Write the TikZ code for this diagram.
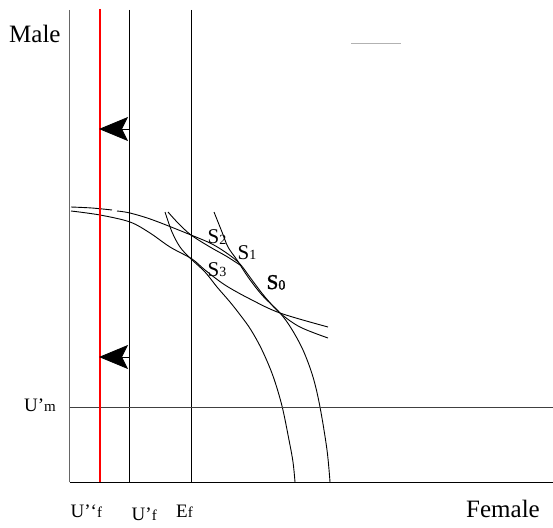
\documentclass[tikz,border=0pt]{standalone}
\usepackage{fontspec}
\setmainfont{Liberation Serif}
\newfontfamily\sbold[FakeBold=1.6]{Liberation Serif}
\usetikzlibrary{arrows.meta}
\begin{document}
\begin{tikzpicture}[x=1pt,y=-1pt,
  axisline/.style={line width=1pt,black},
  grayaxis/.style={line width=1pt,black!60},
  guide/.style={line width=0.9pt,black},
  redline/.style={line width=2pt,red},
  curve/.style={line width=0.9pt,black,smooth,tension=0.55},
  pusharrow/.style={line width=0.8pt,black,-{Stealth[length=29pt,width=24pt,inset=6pt]}},
  lbl/.style={inner sep=0pt,anchor=base west,text=black},
  big/.style={font=\fontsize{25}{25}\selectfont},
]
\useasboundingbox (0,0) rectangle (553,527);

% named points
\coordinate (origin) at (69.5,482);
\coordinate (ytop) at (69.5,10);
\coordinate (xend) at (553,482);
\coordinate (redtop) at (100,9);
\coordinate (redbot) at (100,482);
\coordinate (uftop) at (129.5,10);
\coordinate (ufbot) at (129.5,482);
\coordinate (eftop) at (191.5,10);
\coordinate (efbot) at (191.5,482);
\coordinate (umleft) at (69.5,407);
\coordinate (umright) at (553,407);
\coordinate (a1s) at (129.5,129);
\coordinate (a1t) at (99,129);
\coordinate (a2s) at (129.5,357);
\coordinate (a2t) at (99,357);
\coordinate (gl) at (351,43);
\coordinate (gr) at (401,43);

% curves
\draw[curve] plot coordinates {(71,207) (92,208) (112,210)};
\draw[curve] plot coordinates {(117,211) (130,213) (153,220) (191,235) (212,244) (228,254) (240,264) (252,280) (265,297) (280,313) (300,327) (328,338)};
\draw[curve] plot coordinates {(71,211) (100,215) (130,222) (150,233) (170,247) (192,259) (205,270) (225,285) (250,299) (280,313) (328,327)};
\draw[curve] plot coordinates {(165,212) (172,232) (180,247) (190,258) (205,272) (217,287) (230,302) (241,316) (251,330) (262,350) (273,376) (282,406) (289,440) (293,462) (295,482)};
\draw[curve] plot coordinates {(214,212) (222,232) (228,247) (237,260) (248,277) (262,295) (280,313) (291,328) (303,350) (313,377) (320,407) (327,450) (330,482)};
\draw[curve] plot coordinates {(168,212) (178,223) (191,235) (210,247) (226,256) (240,265)};

% axes and guide lines
\draw[grayaxis] (ytop) -- (origin);
\draw[axisline] (origin) -- (xend);
\draw[guide] (uftop) -- (ufbot);
\draw[guide] (eftop) -- (efbot);
\draw[line width=1pt,black!75] (umleft) -- (umright);
\draw[line width=0.8pt,black!30] (gl) -- (gr);
\draw[redline] (redtop) -- (redbot);

% arrows
\draw[pusharrow] (a1s) -- (a1t);
\draw[pusharrow] (a2s) -- (a2t);

% labels
\node[lbl,big] (male) at (9,42) {Male};
\node[lbl,big] (female) at (466,517) {Female};
\node[lbl] (um) at (24,411) {\fontsize{19}{19}\selectfont U’\fontsize{15}{15}\selectfont m};
\node[lbl] (upf) at (70.5,517) {\fontsize{19}{19}\selectfont U’‘\fontsize{15}{15}\selectfont f};
\node[lbl] (uf) at (131.5,520) {\fontsize{19}{19}\selectfont U’\fontsize{15}{15}\selectfont f};
\node[lbl] (ef) at (176,517) {\fontsize{19}{19}\selectfont E\fontsize{15}{15}\selectfont f};
\node[lbl] (s2) at (207.5,243) {\fontsize{21}{21}\selectfont S\fontsize{14}{14}\selectfont\raisebox{-1.5pt}{2}};
\node[lbl] (s1) at (237.5,259) {\fontsize{21}{21}\selectfont S\fontsize{14}{14}\selectfont\raisebox{-0.5pt}{1}};
\node[lbl] (s3) at (207.5,276) {\fontsize{21}{21}\selectfont S\fontsize{14}{14}\selectfont\raisebox{-0.5pt}{3}};
\node[lbl] (s0) at (266.5,289) {\fontsize{21}{21}\selectfont\sbold S\fontsize{14}{14}\selectfont\raisebox{-0.5pt}{0}};
\end{tikzpicture}
\end{document}
